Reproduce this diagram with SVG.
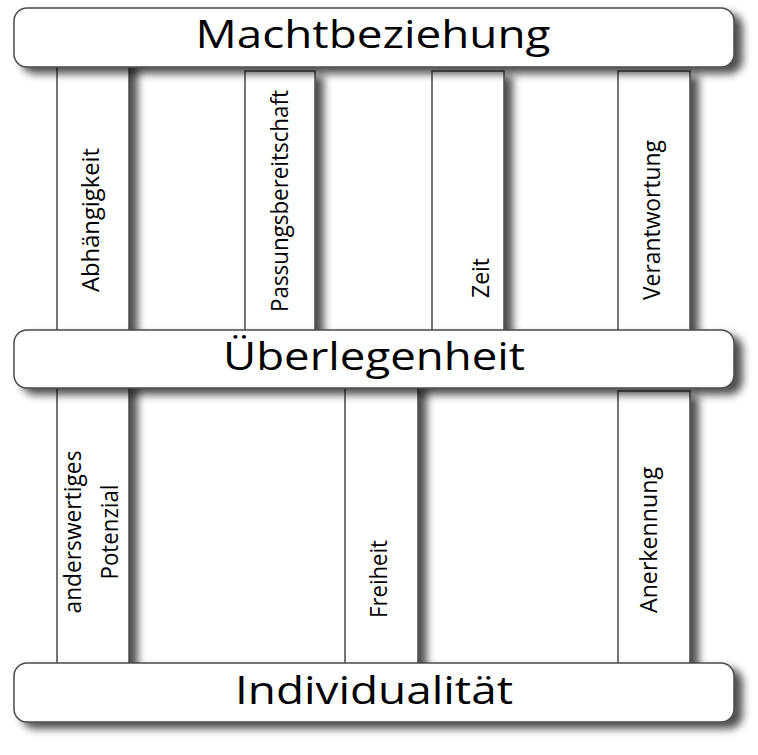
<svg xmlns="http://www.w3.org/2000/svg" width="758" height="755" viewBox="0 0 758 755">
  <style>
    .pillar { fill: #ffffff; stroke: #4a4a4a; stroke-width: 1.5; filter: url(#shadow); }
    .bar { fill: #ffffff; stroke: #4a4a4a; stroke-width: 1.5; filter: url(#shadow); }
    .big { font-family: "Open Sans", "Liberation Sans", sans-serif; font-size: 38px; fill: #000000; text-anchor: middle; }
    .vert { font-family: "Open Sans", "Liberation Sans", sans-serif; font-size: 23px; fill: #000000; text-anchor: middle; }
  </style>
  <defs>
    <filter id="shadow" x="-20%" y="-20%" width="160%" height="160%">
      <feGaussianBlur in="SourceAlpha" stdDeviation="4.5"/>
      <feOffset dx="8" dy="6" result="off"/>
      <feComponentTransfer>
        <feFuncA type="linear" slope="0.7"/>
      </feComponentTransfer>
      <feMerge>
        <feMergeNode/>
        <feMergeNode in="SourceGraphic"/>
      </feMerge>
    </filter>
  </defs>
  <rect width="758" height="755" fill="#ffffff"/>

  <g id="pillars-upper">
    <g id="abhaengigkeit">
      <rect class="pillar" x="57" y="60" width="72" height="275"/>
      <text class="vert" transform="translate(99,220) rotate(-90)" textLength="144" lengthAdjust="spacingAndGlyphs">Abhängigkeit</text>
    </g>
    <g id="passungsbereitschaft">
      <rect class="pillar" x="245" y="71" width="70" height="264"/>
      <text class="vert" transform="translate(288,201) rotate(-90)" textLength="222" lengthAdjust="spacingAndGlyphs">Passungsbereitschaft</text>
    </g>
    <g id="zeit">
      <rect class="pillar" x="432" y="71" width="72" height="264"/>
      <text class="vert" transform="translate(489,278) rotate(-90)" textLength="40" lengthAdjust="spacingAndGlyphs">Zeit</text>
    </g>
    <g id="verantwortung">
      <rect class="pillar" x="618" y="71" width="72" height="264"/>
      <text class="vert" transform="translate(660,220) rotate(-90)" textLength="160" lengthAdjust="spacingAndGlyphs">Verantwortung</text>
    </g>
  </g>

  <g id="pillars-lower">
    <g id="potenzial">
      <rect class="pillar" x="57" y="382" width="72" height="286"/>
      <text class="vert" transform="translate(81,532) rotate(-90)" textLength="163" lengthAdjust="spacingAndGlyphs">anderswertiges</text>
      <text class="vert" transform="translate(118,532) rotate(-90)" textLength="95" lengthAdjust="spacingAndGlyphs">Potenzial</text>
    </g>
    <g id="freiheit">
      <rect class="pillar" x="345" y="382" width="73" height="286"/>
      <text class="vert" transform="translate(387,579) rotate(-90)" textLength="78" lengthAdjust="spacingAndGlyphs">Freiheit</text>
    </g>
    <g id="anerkennung">
      <rect class="pillar" x="618" y="391" width="72" height="277"/>
      <text class="vert" transform="translate(657,540) rotate(-90)" textLength="146" lengthAdjust="spacingAndGlyphs">Anerkennung</text>
    </g>
  </g>

  <g id="machtbeziehung">
    <rect class="bar" x="14" y="8" width="720" height="59" rx="13" ry="13"/>
    <text class="big" x="373" y="48" textLength="355" lengthAdjust="spacingAndGlyphs">Machtbeziehung</text>
  </g>
  <g id="ueberlegenheit">
    <rect class="bar" x="14" y="330" width="720" height="58" rx="13" ry="13"/>
    <text class="big" x="374" y="370" textLength="302" lengthAdjust="spacingAndGlyphs">Überlegenheit</text>
  </g>
  <g id="individualitaet">
    <rect class="bar" x="14" y="663" width="720" height="59" rx="13" ry="13"/>
    <text class="big" x="374" y="704" textLength="278" lengthAdjust="spacingAndGlyphs">Individualität</text>
  </g>

  <g id="connectors"/>
</svg>
